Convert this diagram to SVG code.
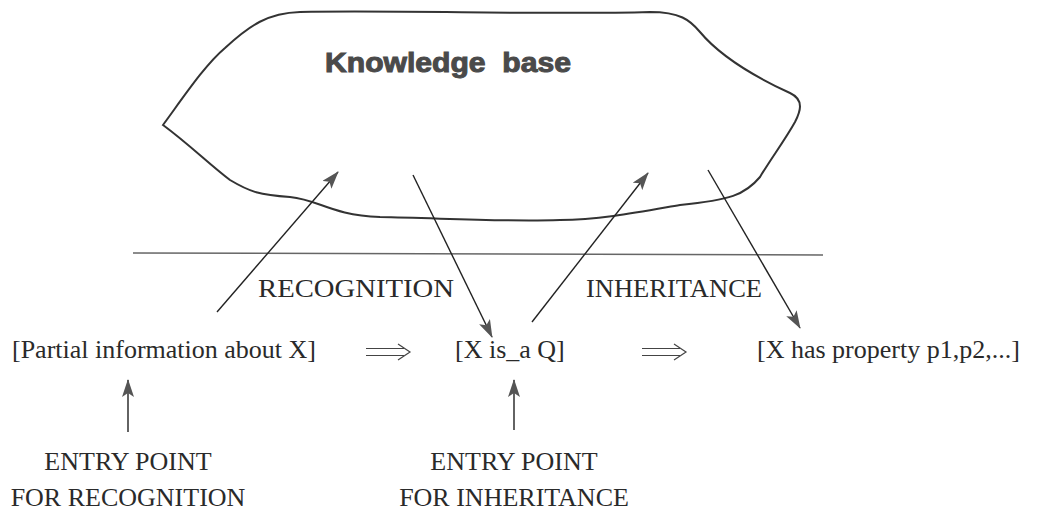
<svg xmlns="http://www.w3.org/2000/svg" width="1040" height="514" viewBox="0 0 1040 514">
<style>
.t{font-family:"Liberation Serif","Times New Roman",serif;font-size:26px;fill:#2a2a2a}
.kb{font-family:"Liberation Sans",Arial,sans-serif;font-size:27px;font-weight:bold;fill:#4a4a4a;stroke:#4a4a4a;stroke-width:1;white-space:pre}
.ln{stroke:#222;stroke-width:1.4;fill:none}
.dbl{stroke:#444;stroke-width:1.2;fill:none}
</style>
<defs>
<marker id="ah" markerUnits="userSpaceOnUse" viewBox="0 0 18 12" markerWidth="18" markerHeight="12" refX="17" refY="6" orient="auto">
<path d="M0,0 L18,6 L0,12 L4,6 Z" fill="#555"/>
</marker>
</defs>
<rect width="1040" height="514" fill="#fff"/>
<g id="knowledge-base">
<path d="M300,12 C400,10 550,15 650,12 C680,12 690,20 700,32 C715,50 740,70 790,93 C805,100 800,112 795,122 C785,140 770,160 760,177 C745,195 730,200 680,205 C640,212 600,220 560,220 C500,222 440,218 380,217 C330,215 320,200 290,197 C260,195 250,192 230,180 C210,165 190,145 163,125 C185,95 205,65 225,48 C250,25 268,13 300,12 Z" fill="none" stroke="#333" stroke-width="2"/>
<text class="kb" xml:space="preserve" x="325" y="72" textLength="246" lengthAdjust="spacingAndGlyphs">Knowledge  base</text>
</g>
<g id="divider">
<line x1="133" y1="253" x2="823" y2="255" stroke="#666" stroke-width="1.5"/>
</g>
<g id="label-recognition"><text class="t" x="258" y="297" textLength="196" lengthAdjust="spacingAndGlyphs">RECOGNITION</text></g>
<g id="label-inheritance"><text class="t" x="586" y="297" textLength="176" lengthAdjust="spacingAndGlyphs">INHERITANCE</text></g>
<g id="node-partial"><text class="t" x="12" y="358">[Partial information about X]</text></g>
<g id="node-isa"><text class="t" x="455" y="358">[X is_a Q]</text></g>
<g id="node-property"><text class="t" x="757" y="358">[X has property p1,p2,...]</text></g>
<g id="entry-recognition">
<text class="t" x="128" y="470" text-anchor="middle">ENTRY POINT</text>
<text class="t" x="128" y="506" text-anchor="middle">FOR RECOGNITION</text>
</g>
<g id="entry-inheritance">
<text class="t" x="514" y="470" text-anchor="middle">ENTRY POINT</text>
<text class="t" x="514" y="506" text-anchor="middle">FOR INHERITANCE</text>
</g>
<g id="connectors">
<line class="ln" x1="217" y1="312" x2="338" y2="172" marker-end="url(#ah)"/>
<line class="ln" x1="413" y1="175" x2="492" y2="337" marker-end="url(#ah)"/>
<line class="ln" x1="532" y1="322" x2="648" y2="173" marker-end="url(#ah)"/>
<line class="ln" x1="708" y1="170" x2="800" y2="328" marker-end="url(#ah)"/>
<line class="ln" x1="128" y1="432" x2="128" y2="380" marker-end="url(#ah)"/>
<line class="ln" x1="514" y1="430" x2="514" y2="380" marker-end="url(#ah)"/>
<path class="dbl" d="M366,348.5 H404 M366,355.5 H404 M398,344 L410,352 L398,360"/>
<path class="dbl" d="M642,348.5 H680 M642,355.5 H680 M674,344 L686,352 L674,360"/>
</g>
</svg>
